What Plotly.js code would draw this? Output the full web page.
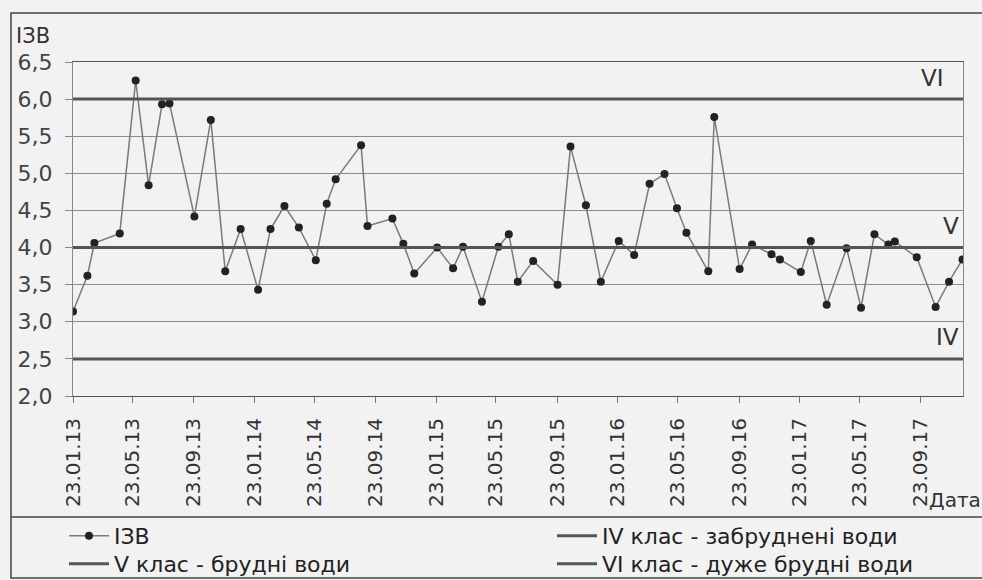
<!DOCTYPE html>
<html>
<head>
<meta charset="utf-8">
<script src="https://cdn.plot.ly/plotly-3.0.1.min.js"></script>
<style>html,body{margin:0;padding:0;background:#f2f2f2;}#chart{width:982px;height:580px;}</style>
</head>
<body>
<div id="chart"></div>
<script>
const dates = ['2013-01-23','2013-02-21','2013-03-07','2013-04-27','2013-05-29','2013-06-24','2013-07-21','2013-08-05','2013-09-24','2013-10-27','2013-11-25','2013-12-26',
'2014-01-30','2014-02-24','2014-03-24','2014-04-22','2014-05-26','2014-06-17','2014-07-05','2014-08-25','2014-09-07','2014-10-27','2014-11-18','2014-12-10',
'2015-01-25','2015-02-26','2015-03-18','2015-04-25','2015-05-28','2015-06-18','2015-07-06','2015-08-06','2015-09-24','2015-10-20','2015-11-20','2015-12-20',
'2016-01-25','2016-02-25','2016-03-27','2016-04-26','2016-05-21','2016-06-09','2016-07-23','2016-08-04','2016-09-24','2016-10-19','2016-11-27','2016-12-14',
'2017-01-25','2017-02-14','2017-03-18','2017-04-27','2017-05-26','2017-06-22','2017-07-20','2017-08-02','2017-09-15','2017-10-23','2017-11-19','2017-12-16'];
const izv = [3.14,3.62,4.06,4.19,6.25,4.84,5.93,5.94,4.42,5.72,
3.68,4.25,3.43,4.25,4.56,4.27,3.83,4.59,4.92,5.38,
4.29,4.39,4.05,3.65,4.00,3.72,4.01,3.27,4.01,4.18,
3.54,3.82,3.50,5.36,4.57,3.54,4.09,3.90,4.86,4.99,
4.53,4.20,3.68,5.76,3.71,4.04,3.91,3.84,3.67,4.09,
3.23,3.99,3.19,4.18,4.04,4.08,3.87,3.20,3.54,3.84];
const classDates = ['2013-01-23','2017-12-17'];
const classIV = [2.5, 2.5];
const classV = [4.0, 4.0];
const classVI = [6.0, 6.0];
const tickDates = ['2013-01-23','2013-05-23','2013-09-23','2014-01-23','2014-05-23','2014-09-23','2015-01-23','2015-05-23','2015-09-23','2016-01-23','2016-05-23','2016-09-23','2017-01-23','2017-05-23','2017-09-23'];
const tickLabels = ['23.01.13','23.05.13','23.09.13','23.01.14','23.05.14','23.09.14','23.01.15','23.05.15','23.09.15','23.01.16','23.05.16','23.09.16','23.01.17','23.05.17','23.09.17'];
const names = ['ІЗВ','IV клас - забруднені води','V клас - брудні води','VI клас - дуже брудні води'];
const classLabels = ['IV','V','VI'];

const font = 'DejaVu Sans, Liberation Sans, sans-serif';
const classLine = {color:'#555', width:3};
const traces = [
  {x:dates, y:izv, name:names[0], type:'scatter', mode:'lines+markers', legend:'legend',
   line:{color:'#7a7a7a', width:1.5}, marker:{color:'#222', size:8}},
  {x:classDates, y:classIV, name:names[1], type:'scatter', mode:'lines', line:classLine, legend:'legend2'},
  {x:classDates, y:classV, name:names[2], type:'scatter', mode:'lines', line:classLine, legend:'legend3'},
  {x:classDates, y:classVI, name:names[3], type:'scatter', mode:'lines', line:classLine, legend:'legend4'}
];
const px = v => (v-73)/890;
const py = v => 1-(v-62)/334;
const legendBase = {orientation:'v', yanchor:'top', xanchor:'left', itemwidth:40, traceorder:'normal',
  tracegroupgap:0, bgcolor:'rgba(0,0,0,0)', font:{family:font, size:22, color:'#222'}};
const layout = {
  width:982, height:580,
  margin:{l:73, r:19, t:62, b:184, autoexpand:false},
  paper_bgcolor:'#f2f2f2', plot_bgcolor:'#f2f2f2',
  separators:', ',
  showlegend:true,
  font:{family:font, size:21, color:'#333'},
  xaxis:{type:'date', range:[classDates[0], classDates[1]], tickmode:'array', tickvals:tickDates, ticktext:tickLabels,
    tickangle:-90, ticks:'outside', ticklen:6, tickcolor:'#777', showgrid:false, zeroline:false,
    showline:true, linecolor:'#555', linewidth:1, mirror:true, ticklabelstandoff:7,
    tickfont:{family:font, size:20, color:'#333'}},
  yaxis:{range:[2,6.5], dtick:0.5, tickformat:'.1f', ticks:'outside', ticklen:7, tickcolor:'#888',
    showgrid:true, gridcolor:'#8c8c8c', gridwidth:1, zeroline:false,
    showline:true, linecolor:'#888', linewidth:1, mirror:true,
    tickfont:{family:font, size:22, color:'#444'}, ticklabelstandoff:8},
  legend:Object.assign({x:px(64), y:py(515)}, legendBase),
  legend2:Object.assign({x:px(552), y:py(515)}, legendBase),
  legend3:Object.assign({x:px(64), y:py(543)}, legendBase),
  legend4:Object.assign({x:px(552), y:py(543)}, legendBase),
  annotations:[
    {xref:'paper', yref:'paper', x:px(14), y:py(50), xanchor:'left', yanchor:'bottom', text:'ІЗВ', showarrow:false, font:{family:font, size:21, color:'#333'}},
    {xref:'paper', yref:'paper', x:px(927), y:py(500), xanchor:'left', yanchor:'middle', text:'Дата', showarrow:false, font:{family:font, size:20, color:'#333'}},
    {xref:'paper', yref:'y', x:px(961), y:2.8, xanchor:'right', yanchor:'middle', text:classLabels[0], showarrow:false, font:{family:font, size:23, color:'#333'}},
    {xref:'paper', yref:'y', x:px(961), y:4.29, xanchor:'right', yanchor:'middle', text:classLabels[1], showarrow:false, font:{family:font, size:23, color:'#333'}},
    {xref:'paper', yref:'y', x:px(946), y:6.28, xanchor:'right', yanchor:'middle', text:classLabels[2], showarrow:false, font:{family:font, size:23, color:'#333'}}
  ],
  shapes:[
    {type:'rect', xref:'paper', yref:'paper', x0:px(11), x1:px(995), y0:py(578), y1:py(13), line:{color:'#444', width:1.5}},
    {type:'line', xref:'paper', yref:'paper', x0:px(11), x1:px(995), y0:py(517), y1:py(517), line:{color:'#444', width:1.5}}
  ]
};
Plotly.newPlot('chart', traces, layout, {displayModeBar:false, staticPlot:true});
</script>
</body>
</html>
